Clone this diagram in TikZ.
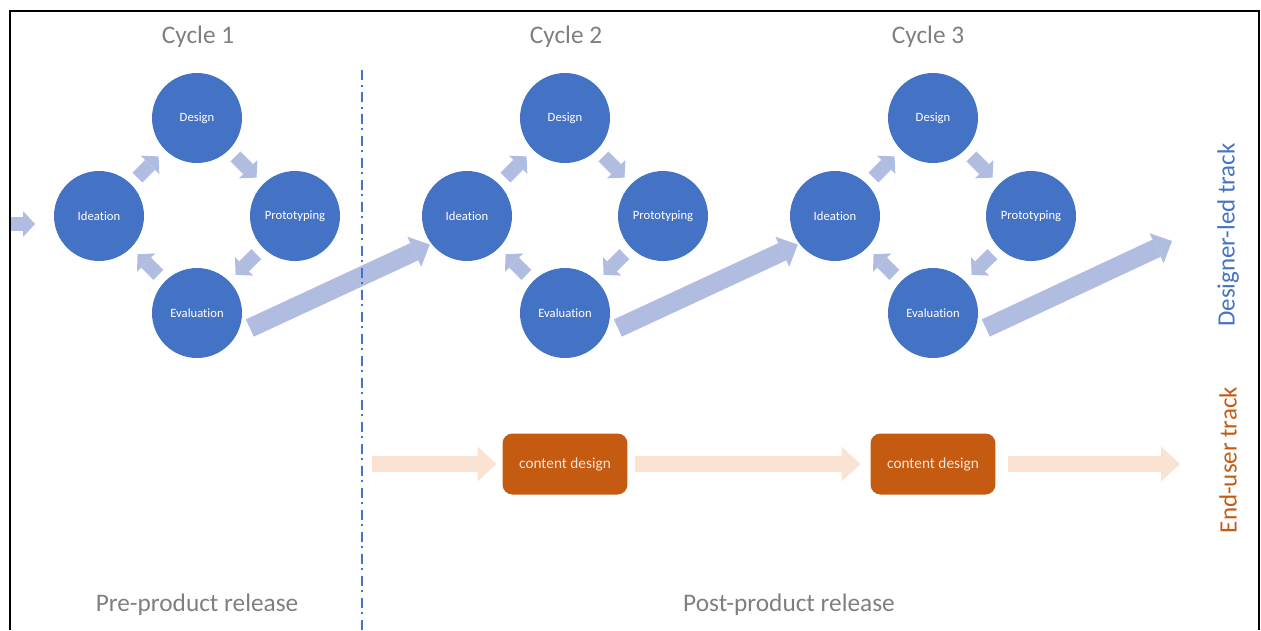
\documentclass[tikz,border=0pt]{standalone}
\usepackage{fontspec}
\setmainfont{Carlito}[Ligatures=NoCommon]
\usetikzlibrary{arrows.meta}
\definecolor{cycblue}{HTML}{4472C4}
\definecolor{arrblue}{HTML}{B0BCE0}
\definecolor{cdorange}{HTML}{C55A11}
\definecolor{arrorange}{HTML}{FBE3D4}
\definecolor{lblgray}{HTML}{7F7F7F}
\definecolor{cdtext}{HTML}{FBE5D6}
\begin{document}
\begin{tikzpicture}[x=0.02cm, y=-0.02cm,
        circ/.style={circle, fill=cycblue, minimum size=1.8cm, inner sep=0pt, outer sep=0pt, text=white, font=\fontsize{7.2}{8}\selectfont},
        cbox/.style={rectangle, rounded corners=2mm, fill=cdorange, minimum width=2.5cm, minimum height=1.22cm, outer sep=0pt, text=cdtext, font=\fontsize{8.7}{10}\selectfont},
        smallarr/.style={arrblue, line width=2.8mm, -{Triangle[width=5.2mm, length=2.4mm, line width=0pt]}, shorten >=1.86mm, shorten <=1.86mm},
        bigarr/.style={arrblue, line width=3.8mm, -{Triangle[width=6.6mm, length=3.4mm, line width=0pt]}, shorten <=2.9mm},
        orarr/.style={arrorange, line width=3.2mm, -{Triangle[width=7mm, length=3.8mm, line width=0pt]}},
        lbl/.style={text=lblgray, font=\fontsize{14.4}{16}\selectfont},
        track/.style={rotate=90, font=\fontsize{14.2}{16}\selectfont}]
        \useasboundingbox (0,0) rectangle (1261,630);

        \node[lbl] (cyc1) at (198,37) {Cycle 1};
        \node[lbl] (cyc2) at (566,37) {Cycle 2};
        \node[lbl] (cyc3) at (928,37) {Cycle 3};

        \node[circ] (D1) at (197,118) {Design};
        \node[circ] (I1) at (99,216) {Ideation};
        \node[circ] (P1) at (295,216) {Prototyping};
        \node[circ] (E1) at (197,313) {Evaluation};

        \node[circ] (D2) at (565,118) {Design};
        \node[circ] (I2) at (467,216) {Ideation};
        \node[circ] (P2) at (663,216) {Prototyping};
        \node[circ] (E2) at (565,313) {Evaluation};

        \node[circ] (D3) at (933,118) {Design};
        \node[circ] (I3) at (835,216) {Ideation};
        \node[circ] (P3) at (1031,216) {Prototyping};
        \node[circ] (E3) at (933,313) {Evaluation};

        \coordinate (in) at (11,224);
        \coordinate (out) at (1172,241);
        \draw[smallarr, shorten <=0pt, shorten >=3.8mm] (in) -- (in -| I1.west);

        \draw[smallarr] (I1) -- (D1);
        \draw[smallarr] (D1) -- (P1);
        \draw[smallarr] (P1) -- (E1);
        \draw[smallarr] (E1) -- (I1);

        \draw[smallarr] (I2) -- (D2);
        \draw[smallarr] (D2) -- (P2);
        \draw[smallarr] (P2) -- (E2);
        \draw[smallarr] (E2) -- (I2);

        \draw[smallarr] (I3) -- (D3);
        \draw[smallarr] (D3) -- (P3);
        \draw[smallarr] (P3) -- (E3);
        \draw[smallarr] (E3) -- (I3);

        \draw[bigarr, shorten >=0.4mm] (E1.-28) -- (I2.218);
        \draw[bigarr, shorten >=0.4mm] (E2.-28) -- (I3.218);
        \draw[bigarr] (E3.-28) -- (out);

        \node[cbox] (CD1) at (565,464) {content design};
        \node[cbox] (CD2) at (933,464) {content design};
        \coordinate (st) at (372,464);
        \coordinate (fin) at (1180,464);
        \draw[orarr, shorten >=1.2mm] (st) -- (CD1);
        \draw[orarr, shorten <=1.6mm, shorten >=2mm] (CD1) -- (CD2);
        \draw[orarr, shorten <=2.6mm] (CD2) -- (fin);

        \draw[cycblue, line width=0.4mm, dash pattern=on 2mm off 0.9mm on 0.4mm off 1.1mm] (362,70) -- (362,630);

        \node[track, text=cycblue] (dtrack) at (1228,235) {Designer-led track};
        \node[track, text=cdorange] (etrack) at (1228,460) {End-user track};

        \node[lbl] (pre) at (197,605) {Pre-product release};
        \node[lbl] (post) at (789,605) {Post-product release};

        \draw[black, line width=0.4mm] (10,630) -- (10,11) -- (1259,11) -- (1259,630);
    \end{tikzpicture}
\end{document}
